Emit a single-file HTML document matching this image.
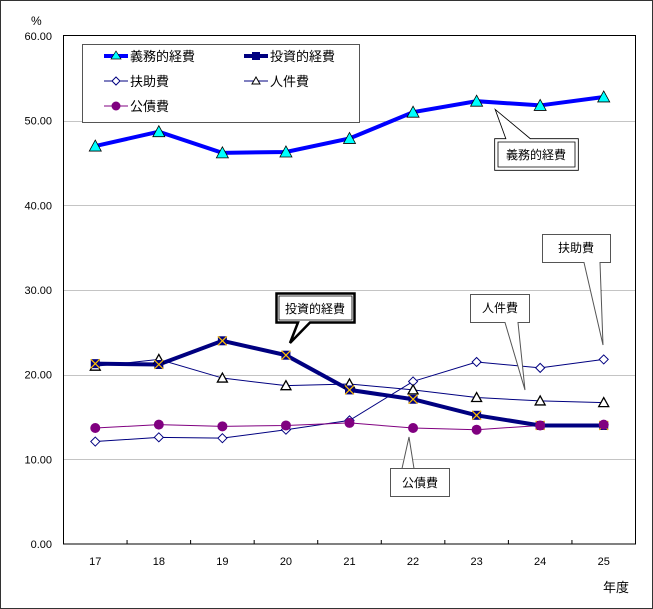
<!DOCTYPE html>
<html><head><meta charset="utf-8"><style>
body{margin:0;background:#fff}
svg{display:block;font-family:"Liberation Sans","Noto Sans CJK JP",sans-serif}
</style></head><body>
<svg id="chart" width="653" height="609">
<rect x="0.5" y="0.5" width="652" height="608" fill="#fff" stroke="#333"/>
<g id="grid"></g>
<rect x="63.5" y="35.5" width="572" height="508.5" fill="none" stroke="#000"/>
<g id="axes" font-size="11"></g>
<text x="31" y="25" font-size="12">%</text>
<text x="603" y="592" font-size="13">年度</text>
<g id="series"></g>
<g>
<rect x="82.5" y="44.5" width="277" height="78" fill="#fff" stroke="#555"/>
<g><line x1="104" y1="56" x2="128" y2="56" stroke="#0000ff" stroke-width="4"/><polygon points="116,51 121,59 111,59" fill="#00ffff" stroke="#000" stroke-width="0.7"/><text x="130" y="61" font-size="13">義務的経費</text></g>
<g><line x1="244" y1="56" x2="268" y2="56" stroke="#000080" stroke-width="4"/><rect x="252" y="52" width="8" height="8" fill="#000080"/><text x="270" y="61" font-size="13">投資的経費</text></g>
<g><line x1="104" y1="81" x2="128" y2="81" stroke="#000080"/><polygon points="116,77 120,81 116,85 112,81" fill="#fff" stroke="#000080"/><text x="130" y="86" font-size="13">扶助費</text></g>
<g><line x1="244" y1="81" x2="268" y2="81" stroke="#000080"/><polygon points="256,77 260,84 252,84" fill="#fff" stroke="#000"/><text x="270" y="86" font-size="13">人件費</text></g>
<g><line x1="104" y1="106" x2="128" y2="106" stroke="#800080"/><circle cx="116" cy="106" r="4.5" fill="#800080"/><text x="130" y="111" font-size="13">公債費</text></g>
</g>
<g font-size="12">
<g><polygon points="495.5,139.5 495.5,169.5 577.5,169.5 577.5,139.5 530,139.5 497,112 507,139.5" fill="#fff" stroke="#000" stroke-width="2.5"/><polygon points="495.5,139.5 495.5,169.5 577.5,169.5 577.5,139.5 530,139.5 497,112 507,139.5" fill="#fff" stroke="#fff" stroke-width="0.8"/><polygon points="498,142 498,167 575,167 575,142 498,142" fill="none" stroke="#000" stroke-width="0.8"/><text x="536" y="159" text-anchor="middle">義務的経費</text></g>
<g><polygon points="276.5,293.5 354.5,293.5 354.5,322.5 310,322.5 290,343 298,322.5 276.5,322.5" fill="#fff" stroke="#000" stroke-width="2.5"/><polygon points="279,296 352,296 352,320 279,320" fill="none" stroke="#000" stroke-width="0.8"/><text x="315" y="313" text-anchor="middle">投資的経費</text></g>
<g><polygon points="542.5,234.5 610.5,234.5 610.5,262.5 600,262.5 603,345 584,262.5 542.5,262.5" fill="#fff" stroke="#555"/><text x="576" y="252" text-anchor="middle">扶助費</text></g>
<g><polygon points="470.5,294.5 529.5,294.5 529.5,322.5 518,322.5 525,390 505,322.5 470.5,322.5" fill="#fff" stroke="#555"/><text x="500" y="312" text-anchor="middle">人件費</text></g>
<g><polygon points="390.5,468.5 449.5,468.5 449.5,496.5 390.5,496.5 390.5,468.5 402,468.5 409,437 414,468.5" fill="#fff" stroke="#555"/><text x="420" y="487" text-anchor="middle">公債費</text></g>
</g>
</svg>
<script>
const categories=["17","18","19","20","21","22","23","24","25"];
const yTicks=[0,10,20,30,40,50,60];
const gimu=[47.0,48.7,46.2,46.3,47.9,51.0,52.3,51.8,52.8];
const toushi=[21.3,21.2,24.0,22.3,18.2,17.1,15.2,14.0,14.0];
const fujo=[12.1,12.6,12.5,13.5,14.6,19.2,21.5,20.8,21.8];
const jinken=[21.0,21.8,19.6,18.7,18.9,18.2,17.3,16.9,16.7];
const kousai=[13.7,14.1,13.9,14.0,14.3,13.7,13.5,14.0,14.1];
const NS="http://www.w3.org/2000/svg";
const X0=63.5,X1=635.5,Y0=544,Y1=36;
const bw=(X1-X0)/categories.length;
const xs=i=>X0+bw*(i+0.5);
const ys=v=>Y0-(v/60)*(Y0-Y1);
function mk(t,a,p){const e=document.createElementNS(NS,t);for(const k in a)e.setAttribute(k,a[k]);p.appendChild(e);return e;}
const grid=document.getElementById('grid'),axes=document.getElementById('axes'),ser=document.getElementById('series');
yTicks.forEach(v=>{
  if(v>0&&v<60){const l=mk('line',{x1:X0,x2:X1,y1:Math.round(ys(v))+0.5,y2:Math.round(ys(v))+0.5,stroke:'#888','stroke-dasharray':'1,1'},grid);
  
  }
  const t=mk('text',{x:52,y:ys(v)+4,'text-anchor':'end'},axes);t.textContent=v.toFixed(2);
  
  
});
categories.forEach((c,i)=>{
  const t=mk('text',{x:xs(i),y:565,'text-anchor':'middle'},axes);t.textContent=c;
  
  
  if(i>0){const l=mk('line',{x1:X0+bw*i,x2:X0+bw*i,y1:Y0,y2:Y0-4,stroke:'#000'},axes);
  
  }
});
function line(data,color,w,name){
  const p=mk('polyline',{points:data.map((v,i)=>xs(i)+','+ys(v)).join(' '),fill:'none',stroke:color,'stroke-width':w},ser);
  
  
}
function marks(data,fn,name){
  data.forEach((v,i)=>{const g=mk('g',{},ser);fn(g,xs(i),ys(v));
  
  });
}
line(fujo,'#000080',1,'fujo');
line(jinken,'#000080',1,'jinken');
line(kousai,'#800080',1,'kousai');
line(toushi,'#000080',4,'toushi');
line(gimu,'#0000ff',4,'gimu');
marks(fujo,(g,x,y)=>mk('polygon',{points:`${x},${y-4.5} ${x+4.5},${y} ${x},${y+4.5} ${x-4.5},${y}`,fill:'#fff',stroke:'#000080'},g),'fujo');
marks(jinken,(g,x,y)=>mk('polygon',{points:`${x},${y-5} ${x+5},${y+4} ${x-5},${y+4}`,fill:'#fff',stroke:'#000','stroke-width':1.3},g),'jinken');
marks(toushi,(g,x,y)=>{mk('rect',{x:x-4.5,y:y-4.5,width:9,height:9,fill:'#000080'},g);mk('path',{d:`M${x-4.5},${y-4.5}L${x+4.5},${y+4.5}M${x+4.5},${y-4.5}L${x-4.5},${y+4.5}`,stroke:'#ffc000','stroke-width':1.2},g);},'toushi');
marks(kousai,(g,x,y)=>mk('circle',{cx:x,cy:y,r:5,fill:'#800080'},g),'kousai');
marks(gimu,(g,x,y)=>mk('polygon',{points:`${x},${y-6} ${x+6},${y+5} ${x-6},${y+5}`,fill:'#00ffff',stroke:'#000','stroke-width':0.8},g),'gimu');
</script>
</body></html>
